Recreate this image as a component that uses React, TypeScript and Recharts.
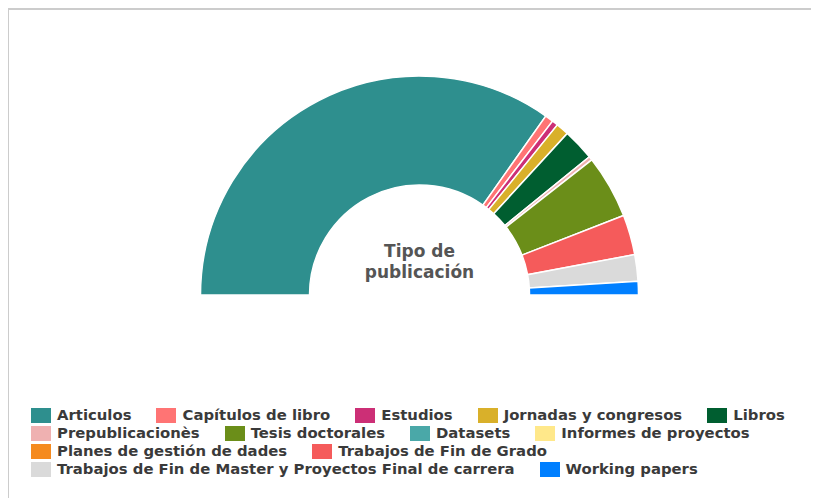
import React from "react";
import { PieChart, Pie, Cell, Legend, Label } from "recharts";

// categories, in drawing order
const categories = [
  "Articulos",
  "Capítulos de libro",
  "Estudios",
  "Jornadas y congresos",
  "Libros",
  "Prepublicacionès",
  "Tesis doctorales",
  "Datasets",
  "Informes de proyectos",
  "Planes de gestión de dades",
  "Trabajos de Fin de Grado",
  "Trabajos de Fin de Master y Proyectos Final de carrera",
  "Working papers",
];

// counts per category
const counts = [624, 11, 8, 17, 42, 5, 84, 0, 0, 0, 53, 35, 18];

const colors = [
  "#2e8f8e",
  "#ff7474",
  "#cc2f76",
  "#d9b02a",
  "#005e30",
  "#efb1b1",
  "#6b8e19",
  "#4aa8a8",
  "#ffe88a",
  "#f58a1e",
  "#f55b5b",
  "#dadada",
  "#007fff",
];

const title = ["Tipo de", "publicación"];

const data = categories.map((name, i) => ({ name, value: counts[i] }));

const font = "'DejaVu Sans', Verdana, sans-serif";
const CX = 410.5;
const CY = 285;

// legend: left aligned rows, square swatch + bold label
const renderLegend = () => (
  <div
    style={{
      display: "flex",
      flexWrap: "wrap",
      width: 790,
      fontFamily: font,
      fontWeight: "bold",
      fontSize: 14.85,
      lineHeight: "18px",
      color: "#3a3a3a",
    }}
  >
    {data.map((d, i) => (
      <div
        key={d.name}
        style={{ display: "flex", alignItems: "center", height: 18, marginRight: 25 }}
      >
        <span
          style={{
            display: "inline-block",
            width: 20,
            height: 15,
            background: colors[i],
            marginRight: 6,
          }}
        />
        <span style={{ whiteSpace: "nowrap" }}>{d.name}</span>
      </div>
    ))}
  </div>
);

const CenterTitle = () => (
  <g>
    <text
      x={CX}
      y={CY - 38}
      textAnchor="middle"
      fill="#555555"
      fontFamily={font}
      fontWeight="bold"
      fontSize={17}
    >
      {title[0]}
    </text>
    <text
      x={CX}
      y={CY - 17}
      textAnchor="middle"
      fill="#555555"
      fontFamily={font}
      fontWeight="bold"
      fontSize={17}
    >
      {title[1]}
    </text>
  </g>
);

export default function App() {
  return (
    <div
      style={{
        width: 810,
        height: 488,
        marginLeft: -1,
        borderTop: "2px solid #cccccc",
        borderLeft: "2px solid #cccccc",
        background: "#ffffff",
        overflow: "hidden",
      }}
    >
      <PieChart width={810} height={488} margin={{ top: 0, right: 0, bottom: 0, left: 0 }}>
        <Pie
          data={data}
          dataKey="value"
          nameKey="name"
          cx={CX}
          cy={CY}
          startAngle={180}
          endAngle={0}
          innerRadius={110}
          outerRadius={219}
          stroke="#ffffff"
          strokeWidth={1.5}
          isAnimationActive={false}
        >
          {data.map((d, i) => (
            <Cell key={d.name} fill={colors[i]} />
          ))}
          <Label position="center" content={<CenterTitle />} />
        </Pie>
        <Legend
          content={renderLegend}
          wrapperStyle={{ position: "absolute", left: 22, top: 396, width: 790 }}
        />
      </PieChart>
    </div>
  );
}
